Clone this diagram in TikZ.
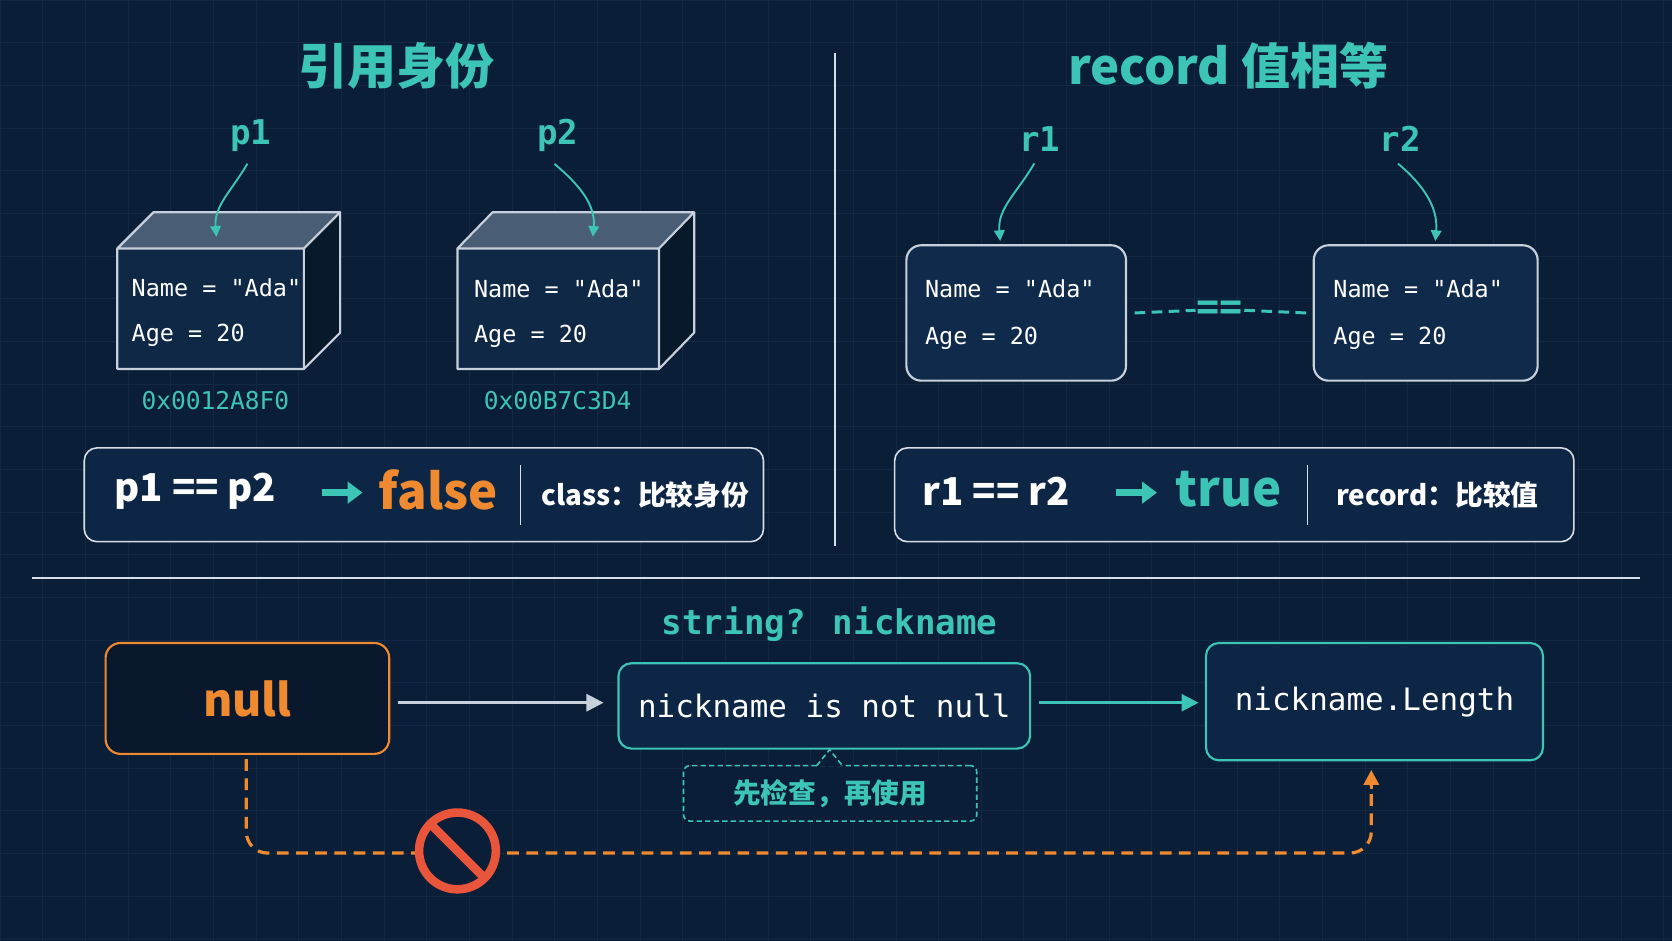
\documentclass[tikz,border=0pt]{standalone}
\usepackage{fontspec}
\setmainfont{Noto Sans CJK SC}
\newfontfamily\cjk{Noto Sans CJK SC}
\newfontfamily\mono{DejaVu Sans Mono}
\usetikzlibrary{arrows.meta,calc}
\definecolor{bg}{HTML}{0B1E38}
\definecolor{teal}{HTML}{3CC4B4}
\definecolor{org}{HTML}{F08A30}
\definecolor{edge}{HTML}{C8D0DC}
\definecolor{boxf}{HTML}{0F2A4A}
\definecolor{redc}{HTML}{E8553A}
\definecolor{gridc}{HTML}{122845}
\tikzset{
  fs/.style={font=\fontsize{#1}{#1}\selectfont},
  ttl/.style={text=teal,font=\fontsize{46}{50}\selectfont\bfseries\cjk},
  var/.style={text=teal,font=\fontsize{32}{36}\selectfont\bfseries\mono},
  fld/.style={text=white,font=\fontsize{22}{26}\selectfont\mono,anchor=west},
  addr/.style={text=teal,font=\fontsize{23}{26}\selectfont\mono},
  ptr/.style={teal,line width=1.8pt,-{Triangle[length=10pt,width=10pt]}},
  res/.style={draw=edge!70,line width=1.5pt,rounded corners=12pt,fill=boxf!70!bg},
  rec/.style={draw=edge,line width=2pt,rounded corners=14pt,fill=boxf},
  tbox/.style={draw=teal,line width=2pt,rounded corners=12pt,fill=boxf!70!bg,text=white,font=\fontsize{29}{34}\selectfont\mono},
  fat/.style={teal,line width=7pt,-{Triangle[length=14pt,width=20pt]}},
}
\begin{document}
\begin{tikzpicture}[x=1pt,y=-1pt]
\fill[bg] (0,0) rectangle (1568,882);
\useasboundingbox (0,0) rectangle (1568,882);
\foreach \i in {0,40,...,1560} \draw[gridc,line width=0.4pt] (\i,0)--(\i,882);
\foreach \j in {0,40,...,880} \draw[gridc,line width=0.4pt] (0,\j)--(1568,\j);
% titles
\node[ttl] (t1) at (372,62) {引用身份};
\node[ttl] (t2) at (1152,62) {record 值相等};
\coordinate (v1) at (783,50); \coordinate (v2) at (783,512);
\draw[edge!70,line width=1.5pt] (v1)--(v2);
\coordinate (h1) at (30,542); \coordinate (h2) at (1538,542);
\draw[edge!70,line width=1.5pt] (h1)--(h2);
% 3D boxes
\foreach \n/\xa/\xb/\o in {b1/110/285/34,b2/429/618/33}{
  \fill[boxf!60!edge!80!bg] (\xa,233)--(\xa+\o,199)--(\xb+\o,199)--(\xb,233)--cycle;
  \fill[boxf!80!bg] (\xa,233) rectangle (\xb,346);
  \fill[boxf!60!black] (\xb,233)--(\xb+\o,199)--(\xb+\o,312)--(\xb,346)--cycle;
  \draw[edge,line width=2pt,line join=round] (\xa,233)--(\xa+\o,199)--(\xb+\o,199)--(\xb+\o,312)--(\xb,346)--(\xa,346)--cycle (\xa,233)--(\xb,233)--(\xb+\o,199) (\xb,233)--(\xb,346);
  \node[inner sep=0] (\n) at ({(\xa+\xb)/2},290) {};
}
\node[fld] (b1a) at (120,270) {Name = "Ada"};
\node[fld] (b1b) at (120,314) {Age = 20};
\node[fld] (b2a) at (441,271) {Name = "Ada"};
\node[fld] (b2b) at (441,315) {Age = 20};
\node[addr] (ad1) at (202,376) {0x0012A8F0};
\node[addr] (ad2) at (523,376) {0x00B7C3D4};
\node[var] (p1) at (235,127) {p1};
\node[var] (p2) at (523,127) {p2};
\coordinate (p1e) at (203,222); \coordinate (p2e) at (556,222);
\draw[ptr] (p1.south)++(-3,8) to[out=240,in=95] (p1e);
\draw[ptr] (p2.south)++(-3,8) to[out=-40,in=85] (p2e);
% records
\node[rec,minimum width=206,minimum height=127] (r1b) at (953,293.5) {};
\node[rec,minimum width=210,minimum height=127] (r2b) at (1337,293.5) {};
\node[fld] at (864,271) {Name = "Ada"};
\node[fld] at (864,317) {Age = 20};
\node[fld] at (1247,271) {Name = "Ada"};
\node[fld] at (1247,317) {Age = 20};
\node[var] (r1) at (975,130) {r1};
\node[var] (r2) at (1313,130) {r2};
\coordinate (r1e) at (938,226); \coordinate (r2e) at (1346,226);
\draw[ptr] (r1.south)++(-5,8) to[out=240,in=95] (r1e);
\draw[ptr] (r2.south)++(-2,8) to[out=-40,in=85] (r2e);
\node[text=teal,font=\fontsize{36}{36}\selectfont\bfseries\mono,fill=bg,inner sep=1pt] (eq) at (1144,291) {==};
\draw[teal,line width=2.8pt,dash pattern=on 10pt off 6pt] (r1b.east)++(7,0) -- (eq.west);
\draw[teal,line width=2.8pt,dash pattern=on 10pt off 6pt] (eq.east) -- ($(r2b.west)+(-6,0)$);
% result boxes
\node[res,minimum width=637,minimum height=88] (res1) at (397.5,464) {};
\node[res,minimum width=637,minimum height=88] (res2) at (1157.5,464) {};
\node[anchor=west,text=white,font=\fontsize{36}{36}\selectfont\bfseries] at (104,461) {p1 == p2};
\coordinate (a1s) at (302,462); \coordinate (a1e) at (340,462);
\draw[fat] (a1s)--(a1e);
\node[text=org,font=\fontsize{46}{46}\selectfont\bfseries] at (411,459) {false};
\draw[edge!70,line width=1.5pt] (488,436)--(488,492);
\node[text=white,font=\fontsize{26}{26}\selectfont\bfseries] at (605,464) {class：比较身份};
\node[anchor=west,text=white,font=\fontsize{36}{36}\selectfont\bfseries] at (862,461) {r1 == r2};
\coordinate (a2s) at (1047,462); \coordinate (a2e) at (1085,462);
\draw[fat] (a2s)--(a2e);
\node[text=teal,font=\fontsize{46}{46}\selectfont\bfseries] at (1152,459) {true};
\draw[edge!70,line width=1.5pt] (1226,436)--(1226,492);
\node[text=white,font=\fontsize{26}{26}\selectfont\bfseries] at (1348,464) {record：比较值};
% bottom
\node[text=teal,font=\fontsize{32}{36}\selectfont\bfseries\mono] (sn) at (778,585) {string? nickname};
\node[draw=org,line width=2pt,rounded corners=14pt,fill=bg!80!black,minimum width=266,minimum height=104,text=org,font=\fontsize{42}{42}\selectfont\bfseries] (nul) at (232,655) {null};
\node[tbox,minimum width=386,minimum height=80] (chk) at (773,662) {nickname is not null};
\node[tbox,minimum width=316,minimum height=110] (len) at (1289,658) {nickname.Length};
\draw[edge,line width=2.5pt,-{Triangle[length=16pt,width=16pt]}] (nul.east)++(7,4)--($(chk.west)+(-13,-3)$);
\draw[teal,line width=2.5pt,-{Triangle[length=16pt,width=16pt]}] (chk.east)++(7,-3)--($(len.west)+(-6,1)$);
\node[draw=teal,line width=1.5pt,dash pattern=on 5pt off 3pt,rounded corners=6pt,fill=bg,minimum width=275,minimum height=52,text=teal,font=\fontsize{26}{26}\selectfont\bfseries] (note) at (778.5,744) {先检查，再使用};
\fill[bg] (766,719)--(778,703)--(790,719)--cycle;
\draw[teal,line width=1.5pt,dash pattern=on 5pt off 3pt] (766,718)--(778,703)--(790,718);
\coordinate (pa) at (231,712); \coordinate (pb) at (1286,722);
\draw[org,line width=3pt,dash pattern=on 11pt off 7pt,rounded corners=20pt] (pa)--(231,800)--(1286,800)--($(pb)+(0,14)$);
\draw[org,-{Triangle[length=14pt,width=14pt]},line width=3pt] (1286,740)--(pb);
\node[circle,draw=redc,line width=8pt,fill=bg,minimum size=72] (no) at (429,798) {};
\draw[redc,line width=8pt] ($(no)+(-25,-25)$)--($(no)+(25,25)$);
\end{tikzpicture}
\end{document}
